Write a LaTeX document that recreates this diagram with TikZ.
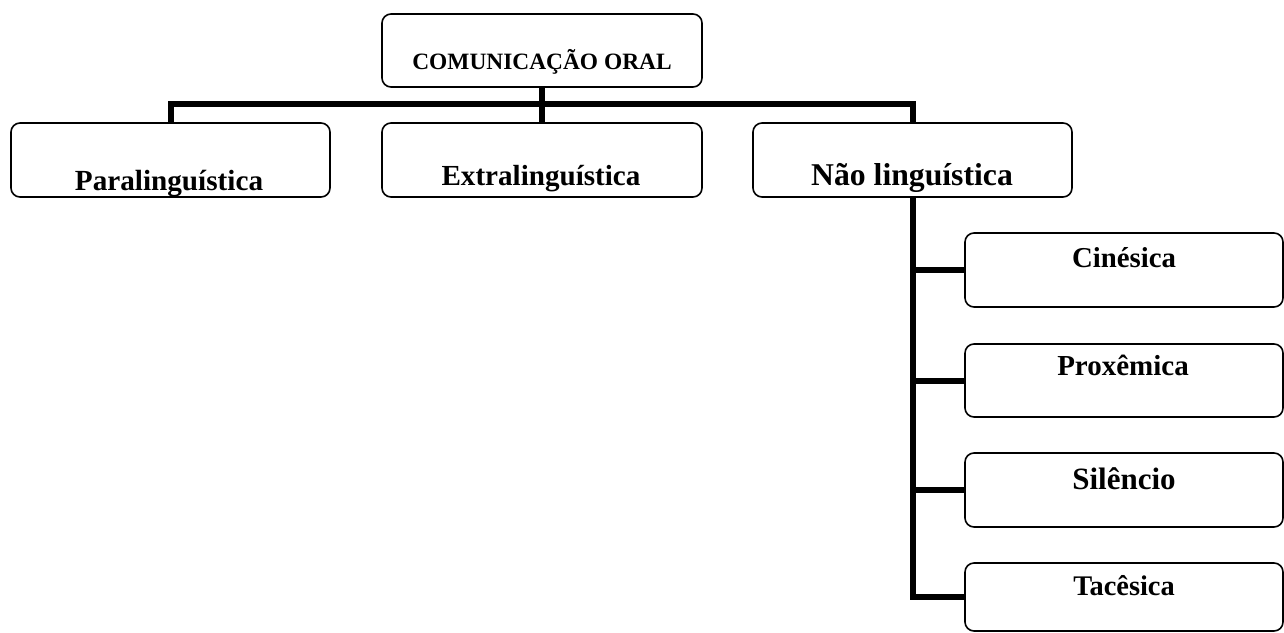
\documentclass[tikz,border=0pt]{standalone}
\usepackage{fontspec}
\setmainfont{Liberation Serif}
\begin{document}
\begin{tikzpicture}[x=1pt,y=-1pt,
  box/.style={draw, line width=1.6pt, rounded corners=9pt, inner sep=0pt, outer sep=0pt, fill=white},
  conn/.style={line width=6pt, line join=miter},
  lbl/.style={anchor=base, inner sep=0pt}]
\useasboundingbox (0,0) rectangle (1284,632);
% boxes
\node[box, minimum width=320pt, minimum height=73pt] (top) at (542,50.5) {};
\node[box, minimum width=319pt, minimum height=74pt] (para) at (170.5,160) {};
\node[box, minimum width=320pt, minimum height=74pt] (extra) at (542,160) {};
\node[box, minimum width=319pt, minimum height=74pt] (nao) at (912.5,160) {};
\node[box, minimum width=318pt, minimum height=74pt] (cin) at (1124,270) {};
\node[box, minimum width=318pt, minimum height=73pt] (prox) at (1124,380.5) {};
\node[box, minimum width=318pt, minimum height=74pt] (sil) at (1124,490) {};
\node[box, minimum width=318pt, minimum height=68pt] (tac) at (1124,597) {};
% connectors
\draw[conn] (top.south) -- (extra.north);
\draw[conn] (para.north) -- ++(0,-19) -| (nao.north);
\draw[conn] (nao.south) |- (tac.west);
\draw[conn] (nao.south) |- (cin.west);
\draw[conn] (nao.south) |- (prox.west);
\draw[conn] (nao.south) |- (sil.west);
% labels
\node[lbl, font=\bfseries\fontsize{23.4}{28}\selectfont] (ttop) at (542,69) {COMUNICAÇÃO ORAL};
\node[lbl, font=\bfseries\fontsize{29.2}{34}\selectfont] (tpara) at (169,190) {Paralinguística};
\node[lbl, font=\bfseries\fontsize{29.1}{34}\selectfont] (textra) at (541,185) {Extralinguística};
\node[lbl, font=\bfseries\fontsize{31.7}{37}\selectfont] (tnao) at (912,185) {Não linguística};
\node[lbl, font=\bfseries\fontsize{28.8}{34}\selectfont] (tcin) at (1124,267) {Cinésica};
\node[lbl, font=\bfseries\fontsize{29}{34}\selectfont] (tprox) at (1123,375) {Proxêmica};
\node[lbl, font=\bfseries\fontsize{31}{36}\selectfont] (tsil) at (1124,489) {Silêncio};
\node[lbl, font=\bfseries\fontsize{28.4}{34}\selectfont] (ttac) at (1124,595) {Tacêsica};
\end{tikzpicture}
\end{document}
